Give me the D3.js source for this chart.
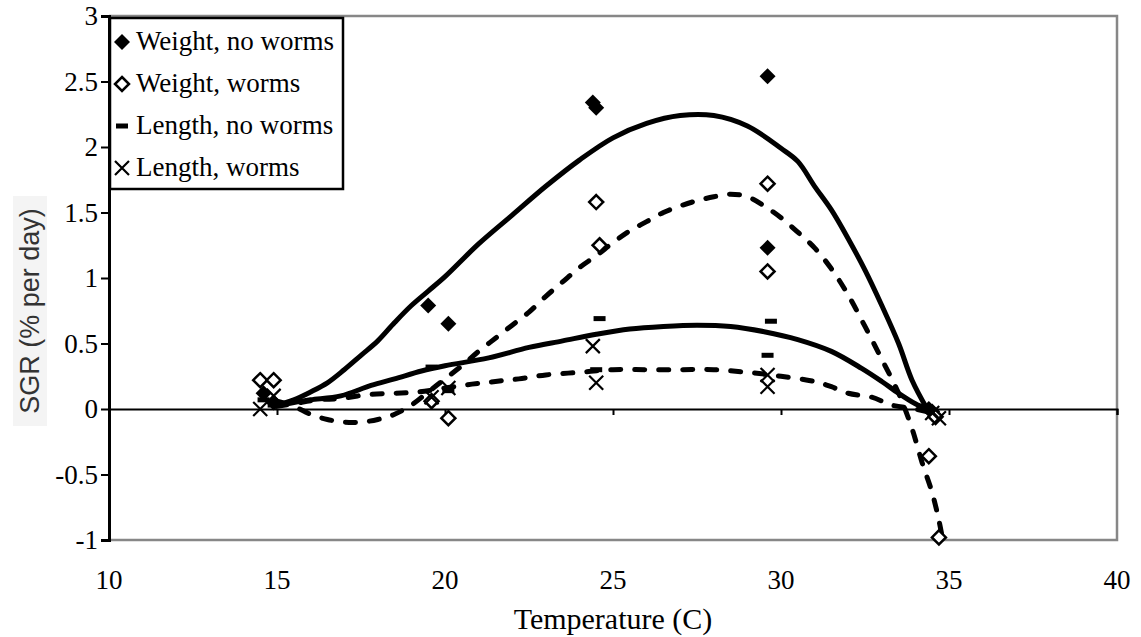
<!DOCTYPE html>
<html><head><meta charset="utf-8">
<script src="https://cdn.jsdelivr.net/npm/d3@7"></script>
<style>body{margin:0;background:#fff} svg{display:block} .sf{font-family:"Liberation Serif","Times New Roman",serif}</style>
</head><body><svg id="c" width="1141" height="637"></svg>
<script>
// ---- data ----
const xTicks = [10, 15, 20, 25, 30, 35, 40];
const yTicks = [-1, -0.5, 0, 0.5, 1, 1.5, 2, 2.5, 3];
const seriesNames = ["Weight, no worms", "Weight, worms", "Length, no worms", "Length, worms"];

const weightNoWormsX = [14.6, 14.9, 19.5, 20.1, 24.4, 24.5, 29.6, 29.6, 34.4, 34.5];
const weightNoWormsY = [0.12, 0.05, 0.79, 0.65, 2.34, 2.30, 2.54, 1.23, 0.0, -0.02];
const weightWormsX = [14.5, 14.9, 19.6, 20.1, 24.5, 24.6, 29.6, 29.6, 34.6, 34.4, 34.7];
const weightWormsY = [0.22, 0.22, 0.06, -0.07, 1.58, 1.25, 1.72, 1.05, -0.06, -0.36, -0.98];
const lengthNoWormsX = [14.6, 14.9, 19.6, 20.1, 24.6, 24.5, 29.7, 29.6, 34.4];
const lengthNoWormsY = [0.07, 0.03, 0.32, 0.14, 0.69, 0.30, 0.67, 0.41, -0.01];
const lengthWormsX = [14.5, 14.9, 19.6, 20.1, 24.4, 24.5, 29.6, 29.6, 34.5, 34.7];
const lengthWormsY = [0.0, 0.1, 0.09, 0.16, 0.48, 0.2, 0.26, 0.17, -0.03, -0.07];

// trend curves
const weightNoWormsFitX = [14.9, 15.5, 16, 16.5, 17, 17.5, 18, 18.5, 19, 19.5, 20, 21, 22, 23, 24, 25, 26, 27, 28, 29, 30, 30.5, 31, 31.5, 32, 32.5, 33, 33.5, 33.9, 34.35];
const weightNoWormsFitY = [0.02, 0.07, 0.13, 0.2, 0.3, 0.41, 0.52, 0.66, 0.79, 0.9, 1.01, 1.26, 1.48, 1.7, 1.9, 2.07, 2.18, 2.24, 2.24, 2.16, 1.99, 1.89, 1.7, 1.52, 1.3, 1.06, 0.79, 0.5, 0.22, 0.0];
const weightWormsFitX = [15.0, 15.5, 16, 16.5, 17, 17.5, 18, 18.5, 19, 19.5, 20, 20.5, 21, 21.5, 22, 22.5, 23, 23.5, 24, 24.5, 25, 25.5, 26, 26.5, 27, 27.5, 28, 28.5, 29, 29.5, 30, 30.5, 31, 31.5, 32, 32.5, 33, 33.5, 33.9, 34.2, 34.5, 34.7, 34.8];
const weightWormsFitY = [0.06, 0.02, -0.04, -0.08, -0.1, -0.1, -0.08, -0.04, 0.03, 0.13, 0.23, 0.33, 0.44, 0.54, 0.64, 0.74, 0.86, 0.97, 1.08, 1.17, 1.27, 1.36, 1.43, 1.5, 1.55, 1.59, 1.62, 1.64, 1.62, 1.55, 1.46, 1.35, 1.23, 1.07, 0.87, 0.63, 0.38, 0.12, -0.15, -0.41, -0.64, -0.85, -0.98];
const lengthNoWormsFitX = [14.9, 15.5, 16, 16.9, 17.8, 18.5, 19.3, 20, 21.3, 22.5, 23.5, 24.5, 25.5, 26.5, 27.5, 28.5, 29.5, 30.5, 31.5, 32.4, 33, 33.5, 34, 34.35];
const lengthNoWormsFitY = [0.02, 0.05, 0.07, 0.1, 0.18, 0.23, 0.29, 0.33, 0.39, 0.47, 0.52, 0.57, 0.61, 0.63, 0.64, 0.63, 0.59, 0.53, 0.44, 0.31, 0.21, 0.12, 0.04, 0.0];
const lengthWormsFitX = [15.0, 15.5, 16.2, 16.9, 17.7, 18.5, 19.2, 20, 20.8, 21.5, 22.2, 23, 24, 25, 26, 27, 28, 29, 30, 31, 31.5, 32, 32.7, 33.3, 34, 34.5];
const lengthWormsFitY = [0.02, 0.04, 0.07, 0.08, 0.11, 0.12, 0.13, 0.16, 0.19, 0.21, 0.23, 0.26, 0.28, 0.3, 0.3, 0.3, 0.3, 0.28, 0.25, 0.21, 0.17, 0.12, 0.09, 0.03, 0.0, -0.03];

// ---- layout ----
const L = 109, R = 1117, T = 16, B = 540;
const svg = d3.select("#c");
const x = d3.scaleLinear().domain([10, 40]).range([L, R]);
const y = d3.scaleLinear().domain([-1, 3]).range([B, T]);

const zip = (a, b) => a.map((v, i) => [v, b[i]]);

// plot border (gray)
svg.append("path")
  .attr("d", `M${L},${T}H${R}V${B}H${L}`)
  .attr("fill", "none").attr("stroke", "#878787").attr("stroke-width", 2.5);

// zero axis with ticks
const xAxis = svg.append("g").attr("transform", `translate(0,${y(0)})`)
  .call(d3.axisBottom(x).tickValues(xTicks).tickSize(6).tickFormat(""));
xAxis.select(".domain").attr("stroke", "#000").attr("stroke-width", 2);
xAxis.selectAll(".tick line").attr("stroke", "#000").attr("stroke-width", 2);

// x tick labels at bottom
svg.append("g").selectAll("text").data(xTicks).join("text")
  .attr("class", "sf")
  .attr("x", d => x(d)).attr("y", 589)
  .attr("text-anchor", "middle")
  .style("font-size", "27px").text(d => d);

// y axis
const yAxis = svg.append("g").attr("transform", `translate(${L},0)`)
  .call(d3.axisLeft(y).tickValues(yTicks).tickSize(8).tickPadding(3).tickFormat(d => String(d)));
yAxis.attr("font-family", null).attr("font-size", null);
yAxis.select(".domain").attr("stroke", "#000").attr("stroke-width", 3);
yAxis.selectAll(".tick line").attr("stroke", "#000").attr("stroke-width", 2);
yAxis.selectAll(".tick text").attr("class", "sf").style("font-size", "27px").attr("fill", "#000");

// axis titles
svg.append("text").attr("class", "sf").attr("x", (L + R) / 2).attr("y", 629)
  .attr("text-anchor", "middle").style("font-size", "30px")
  .text("Temperature (C)");
svg.append("rect").attr("x", 13).attr("y", 196).attr("width", 34).attr("height", 230).attr("fill", "#f4f4f4");
svg.append("text").attr("transform", "translate(39,311) rotate(-90)")
  .attr("text-anchor", "middle").style("font-family", "'Liberation Sans',Arial,sans-serif")
  .style("font-size", "27px").attr("fill", "#333").text("SGR (% per day)");

// trend curves
const line = d3.line().x(d => x(d[0])).y(d => y(d[1])).curve(d3.curveCatmullRom);
const fits = [
  {pts: zip(weightNoWormsFitX, weightNoWormsFitY), dash: null},
  {pts: zip(lengthNoWormsFitX, lengthNoWormsFitY), dash: null},
  {pts: zip(weightWormsFitX, weightWormsFitY), dash: "10,14"},
  {pts: zip(lengthWormsFitX, lengthWormsFitY), dash: "10,14"}
];
svg.append("g").selectAll("path").data(fits).join("path")
  .attr("d", d => line(d.pts)).attr("fill", "none").attr("stroke", "#000")
  .attr("stroke-width", 5).attr("stroke-linecap", "round").attr("stroke-linejoin", "round")
  .attr("stroke-dasharray", d => d.dash);

// markers
function marker(g, type) {
  if (type === 0) g.append("path").attr("d", "M0,-8L8,0L0,8L-8,0Z").attr("fill", "#000");
  else if (type === 1) g.append("path").attr("d", "M0,-7L7,0L0,7L-7,0Z").attr("fill", "#fff").attr("stroke", "#000").attr("stroke-width", 2.5);
  else if (type === 2) g.append("rect").attr("x", -6).attr("y", -2.5).attr("width", 12).attr("height", 5).attr("fill", "#000");
  else g.append("path").attr("d", "M-7,-7L7,7M-7,7L7,-7").attr("stroke", "#000").attr("stroke-width", 2.2).attr("fill", "none");
}
const pointSets = [
  zip(weightNoWormsX, weightNoWormsY),
  zip(weightWormsX, weightWormsY),
  zip(lengthNoWormsX, lengthNoWormsY),
  zip(lengthWormsX, lengthWormsY)
];
pointSets.forEach((pts, k) => {
  svg.append("g").selectAll("g").data(pts).join("g")
    .attr("transform", d => `translate(${x(d[0])},${y(d[1])})`)
    .each(function () { marker(d3.select(this), k); });
});

// legend
const lg = svg.append("g");
lg.append("rect").attr("x", L + 1).attr("y", 18).attr("width", 233).attr("height", 171)
  .attr("fill", "#fff").attr("stroke", "#000").attr("stroke-width", 2.5);
const rowY = [42, 84, 126, 168];
seriesNames.forEach((n, k) => {
  const g = lg.append("g").attr("transform", `translate(122,${rowY[k]})`);
  marker(g, k);
  lg.append("text").attr("class", "sf").attr("x", 136).attr("y", rowY[k] + 8)
    .style("font-size", "27px").text(n);
});
</script></body></html>
